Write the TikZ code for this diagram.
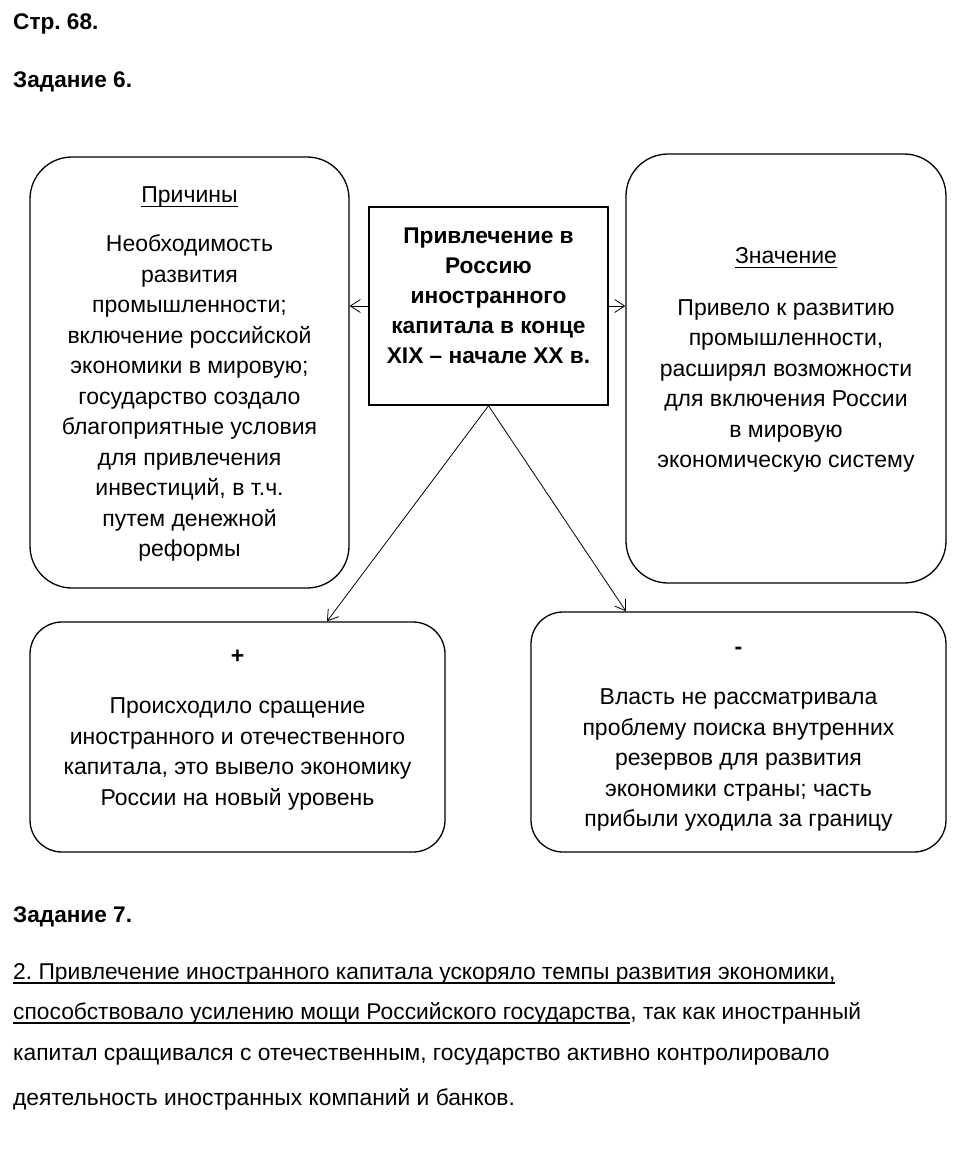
\documentclass[tikz,border=0pt]{standalone}
\usepackage{fontspec}
\setmainfont{Liberation Sans}
\usetikzlibrary{arrows.meta,positioning}
\frenchspacing
\newcommand{\underl}[1]{\setbox0\hbox{#1}\rlap{\rule[-4.5pt]{\wd0}{1.2pt}}\box0}

\begin{document}
\begin{tikzpicture}[x=1pt,y=-1pt,
every node/.style={font=\fontsize{23}{30.5}\selectfont},
rbox/.style={draw,line width=1.3pt,rounded corners=42pt},
lbox/.style={draw,line width=1.3pt,rounded corners=32pt},
cbox/.style={draw,line width=1.5pt},
txt/.style={align=center,inner sep=0pt},
head/.style={anchor=base west,inner sep=0pt,font=\fontsize{22.6}{25}\selectfont\bfseries},
para/.style={anchor=base west,inner sep=0pt,font=\fontsize{22.8}{25}\selectfont},
arr/.style={-{Straight Barb[length=10pt,width=13pt]},line width=0.8pt}
]
\useasboundingbox (0,0) rectangle (957,1168);

% headings
\node[head] (page)  at (13,29)  {Стр. 68.};
\node[head] (task6) at (13,87)  {Задание 6.};
\node[head] (task7) at (13,922) {Задание 7.};

% boxes
\node[cbox,minimum width=239,minimum height=198] (topic)  at (488.5,306) {};
\node[rbox,minimum width=319,minimum height=431] (causes) at (189.5,372.5) {};
\node[rbox,minimum width=320,minimum height=429] (effect) at (786,368.5) {};
\node[lbox,minimum width=415,minimum height=230] (plus)   at (237.5,737) {};
\node[lbox,minimum width=415,minimum height=240] (minus)  at (738.5,732) {};

% box texts
\node[txt,font=\fontsize{22.7}{30}\selectfont\bfseries] (topictxt) at (488.5,296)
  {Привлечение в\\Россию\\иностранного\\капитала в конце\\XIX – начале XX в.};
\node[txt] (causestxt) at (189.5,374)
  {\underl{Причины}\\[19pt]Необходимость\\развития\\промышленности;\\включение российской\\экономики в мировую;\\государство создало\\благоприятные условия\\для привлечения\\инвестиций, в т.ч.\\путем денежной\\реформы};
\node[txt] (effecttxt) at (786,360)
  {\underl{Значение}\\[21pt]Привело к развитию\\промышленности,\\расширял возможности\\для включения России\\в мировую\\экономическую систему};
\node[txt] (plustxt) at (237.5,730)
  {\textbf{+}\\[20pt]Происходило сращение\\иностранного и отечественного\\капитала, это вывело экономику\\России на новый уровень};
\node[txt] (minustxt) at (738.5,739)
  {\textbf{-}\\[20pt]Власть не рассматривала\\проблему поиска внутренних\\резервов для развития\\экономики страны; часть\\прибыли уходила за границу};

% arrows
\draw[arr] (topic.west) -- (topic.west -| causes.east);
\draw[arr] (topic.east) -- (topic.east -| effect.west);
\draw[arr] (topic.south) -- ([xshift=89.5pt]plus.north);
\draw[arr] (topic.south) -- ([xshift=-112.5pt]minus.north);

% task 7
\node[para] (line1) at (13,979)  {\underl{2. Привлечение иностранного капитала ускоряло темпы развития экономики,}};
\node[para] (line2) at (13,1019) {\underl{способствовало усилению мощи Российского государства}, так как иностранный};
\node[para] (line3) at (13,1060) {капитал сращивался с отечественным, государство активно контролировало};
\node[para] (line4) at (13,1105) {деятельность иностранных компаний и банков.};
\end{tikzpicture}
\end{document}
